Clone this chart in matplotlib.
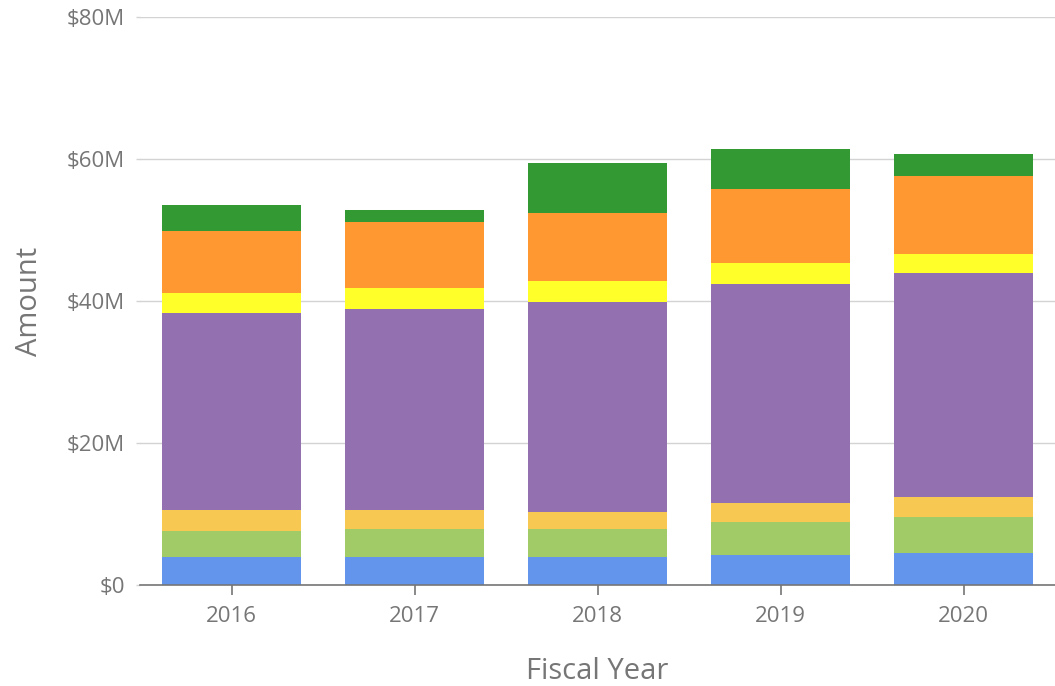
import matplotlib.pyplot as plt
import numpy as np

years = ['2016', '2017', '2018', '2019', '2020']

# segment values in $M, bottom to top
seg_blue = [3.9, 3.9, 4.0, 4.27, 4.46]
seg_lightgreen = [3.75, 3.99, 3.9, 4.65, 5.16]
seg_gold = [2.91, 2.67, 2.43, 2.67, 2.73]
seg_purple = [27.79, 28.27, 29.5, 30.76, 31.55]
seg_yellow = [2.73, 3.0, 3.0, 2.96, 2.68]
seg_orange = [8.74, 9.25, 9.53, 10.51, 11.03]
seg_green = [3.7, 1.69, 7.13, 5.59, 3.09]

series = [seg_blue, seg_lightgreen, seg_gold, seg_purple, seg_yellow, seg_orange, seg_green]
colors = ['#6495ec', '#a1cb67', '#f7c852', '#9371b0', '#ffff2a', '#ff9831', '#339933']

plt.rcParams['font.family'] = ['Open Sans', 'DejaVu Sans']
text_color = '#767676'

fig = plt.figure(figsize=(10.55, 6.86), dpi=100)
ax = fig.add_axes([140 / 1055, 101 / 686, 915 / 1055, 568 / 686])

x = np.arange(len(years))
bottom = np.zeros(len(years))
for vals, c in zip(series, colors):
    ax.bar(x, vals, width=0.755, bottom=bottom, color=c, edgecolor='none', zorder=3)
    bottom += np.array(vals)

ax.set_xlim(-0.5, 4.5)
ax.set_ylim(0, 80)
ax.set_yticks([0, 20, 40, 60, 80])
ax.set_yticklabels(['$0', '$20M', '$40M', '$60M', '$80M'])
ax.set_xticks(x)
ax.set_xticklabels(years)

ax.grid(axis='y', color='#d3d3d3', linewidth=1, zorder=0)
for s in ['top', 'right', 'left']:
    ax.spines[s].set_visible(False)
ax.spines['bottom'].set_color('#767676')
ax.spines['bottom'].set_linewidth(1.2)
ax.spines['bottom'].set_zorder(4)

ax.tick_params(axis='x', colors='#767676', length=7, width=1.2, labelsize=16,
               labelcolor=text_color, pad=8)
ax.tick_params(axis='y', colors='#d3d3d3', length=3, width=1, labelsize=16,
               labelcolor=text_color, pad=8)

ax.set_xlabel('Fiscal Year', fontsize=21, color=text_color, labelpad=22)
ax.set_ylabel('Amount', fontsize=21, color=text_color, labelpad=16)

fig.savefig('out.png', dpi=100)
